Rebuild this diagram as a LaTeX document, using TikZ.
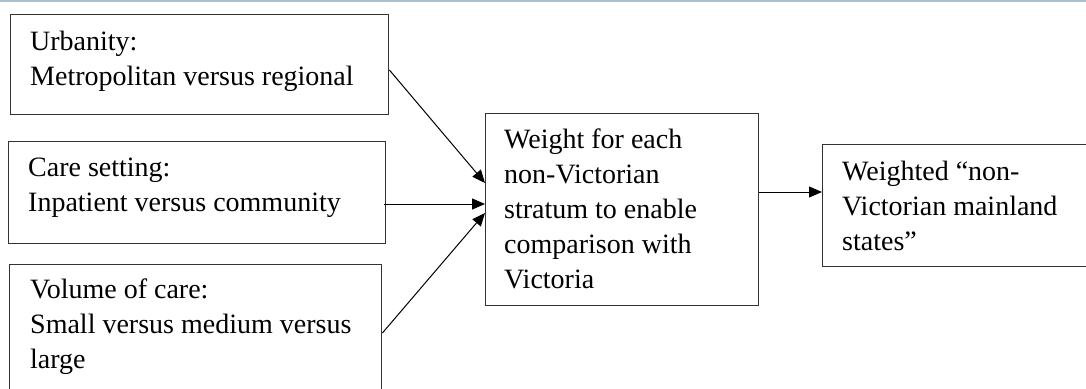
\documentclass[tikz,border=0pt]{standalone}
\usepackage{fontspec}
\setmainfont{Liberation Serif}
\usetikzlibrary{arrows.meta}
\definecolor{boxline}{HTML}{333333}
\definecolor{topline}{HTML}{A9C1D3}
\tikzset{
  box/.style={draw=boxline, line width=1.4pt, rectangle, inner sep=0pt, anchor=north west},
  txt/.style={inner sep=0pt, align=left, anchor=base west, font=\fontsize{28}{35}\selectfont},
  arr/.style={draw=black, line width=1pt, -{Triangle[length=13pt,width=11pt]}, shorten >=0pt}
}
\begin{document}
\begin{tikzpicture}[x=1pt,y=-1pt]
\useasboundingbox (0,0) rectangle (1086,388);
\clip (0,0) rectangle (1086,388);
\fill[white] (0,0) rectangle (1086,388);
\draw[topline, line width=1.6pt] (0,0.8) -- (1086,0.8);
% boxes
\node[box, minimum width=378pt, minimum height=100pt] (b1) at (10,14) {};
\node[box, minimum width=377pt, minimum height=102pt] (b2) at (8,141) {};
\node[box, minimum width=372pt, minimum height=140pt] (b3) at (9,264) {};
\node[box, minimum width=273pt, minimum height=192pt] (c) at (485,113) {};
\node[box, minimum width=290pt, minimum height=122pt] (r) at (822,144) {};
% texts (anchored at the baseline of their last line)
\node[txt] (t1) at (30,85) {Urbanity:\\Metropolitan versus regional};
\node[txt] (t2) at (28,211) {Care setting:\\Inpatient versus community};
\node[txt] (t3) at (30,368) {Volume of care:\\Small versus medium versus\\large};
\node[txt] (tc) at (504,288) {Weight for each\\non-Victorian\\stratum to enable\\comparison with\\Victoria};
\node[txt] (tr) at (842,250) {Weighted “non-\\Victorian mainland\\states”};
% arrows
\draw[arr] ([yshift=-56pt]b1.north east) -- ([yshift=-70pt]c.north west);
\draw[arr] ([xshift=-2pt,yshift=-63pt]b2.north east) -- ([yshift=-91pt]c.north west);
\draw[arr] ([yshift=-69pt]b3.north east) -- ([yshift=-100pt]c.north west);
\draw[arr] ([yshift=-79pt]c.north east) -- ([yshift=-48pt]r.north west);
\end{tikzpicture}
\end{document}
